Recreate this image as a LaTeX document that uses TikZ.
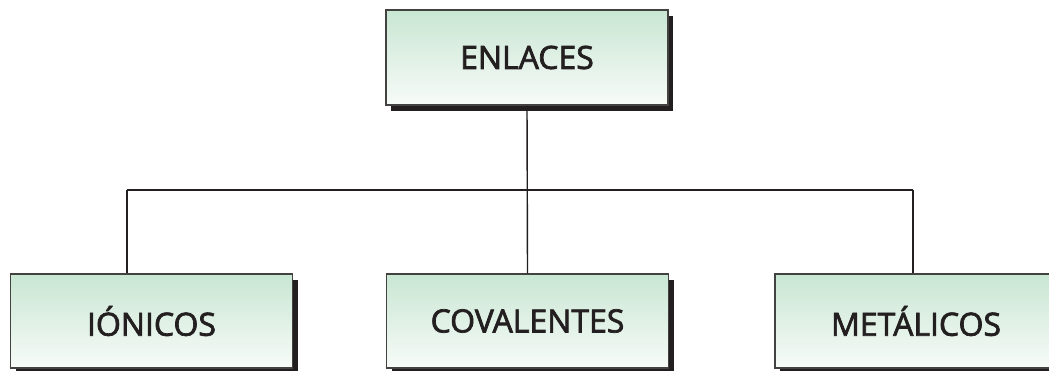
\documentclass[tikz,border=0pt]{standalone}
\usepackage{fontspec}
\setmainfont{Open Sans}
\newfontfamily\boxfont[FakeBold=2.2]{Open Sans}
\usetikzlibrary{shadows}
\definecolor{linec}{HTML}{231F20}
\definecolor{topg}{HTML}{C9E6D3}
\definecolor{botg}{HTML}{F7FBF8}
\begin{document}
\begin{tikzpicture}[x=1pt,y=-1pt,
  box/.style={draw=linec!85, line width=1.3pt, top color=topg, bottom color=botg,
    minimum width=282pt, minimum height=94pt, inner sep=0pt,
    font=\boxfont\fontsize{32}{36}\selectfont, text=linec,
    general shadow={fill=linec, shadow xshift=5pt, shadow yshift=-6pt}},
  conn/.style={draw=linec, line width=1.4pt}]
\useasboundingbox (0,0) rectangle (1049,370);
\clip (0,0) rectangle (1049,370);
\node[box, minimum height=95pt] (top) at (527,57.5) {ENLACES};
\node[box] (left) at (151.5,321) {IÓNICOS};
\node[box] (mid) at (527.5,321) {COVALENTES};
\node[box] (right) at (916,321) {METÁLICOS};
\coordinate (jl) at (127,190);
\coordinate (jr) at (913,190);
\draw[conn] (top.south) -- (mid.north);
\draw[conn] (jl) -- (jr);
\draw[conn] (jl) -- (jl |- left.north);
\draw[conn] (jr) -- (jr |- right.north);
\end{tikzpicture}
\end{document}
